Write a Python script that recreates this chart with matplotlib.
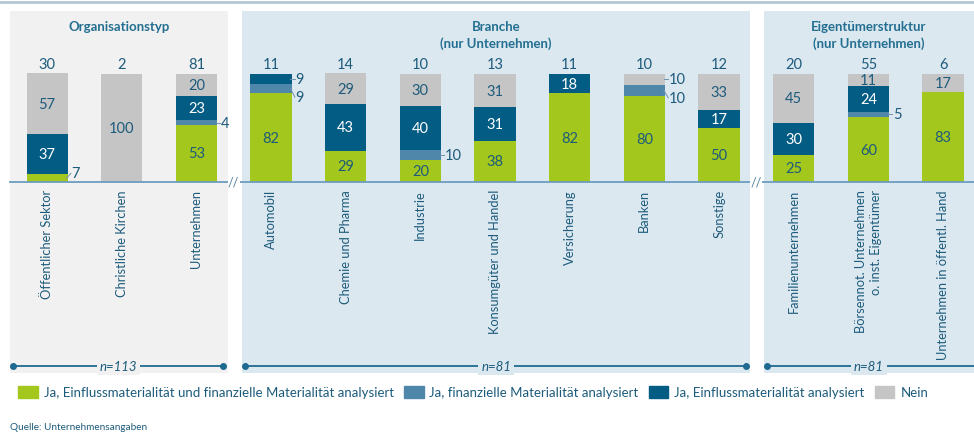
import matplotlib.pyplot as plt
from matplotlib.patches import Rectangle, Patch

plt.rcParams["font.family"] = ["Lato", "DejaVu Sans"]

# data
categories = [
    "Öffentlicher Sektor", "Christliche Kirchen", "Unternehmen",
    "Automobil", "Chemie und Pharma", "Industrie", "Konsumgüter und Handel",
    "Versicherung", "Banken", "Sonstige",
    "Familienunternehmen", "Börsennot. Unternehmen\no. inst. Eigentümer",
    "Unternehmen in öffentl. Hand",
]
n_counts = [30, 2, 81, 11, 14, 10, 13, 11, 10, 12, 20, 55, 6]
both = [7, 0, 53, 82, 29, 20, 38, 82, 80, 50, 25, 60, 83]
financial = [0, 0, 4, 9, 0, 10, 0, 0, 10, 0, 0, 5, 0]
impact = [37, 0, 23, 9, 43, 40, 31, 18, 0, 17, 30, 24, 0]
no = [57, 100, 20, 0, 29, 30, 31, 0, 10, 33, 45, 11, 17]

series = [both, financial, impact, no]
series_names = [
    "Ja, Einflussmaterialität und finanzielle Materialität analysiert",
    "Ja, finanzielle Materialität analysiert",
    "Ja, Einflussmaterialität analysiert",
    "Nein",
]
group_titles = ["Organisationstyp", "Branche\n(nur Unternehmen)",
                "Eigentümerstruktur\n(nur Unternehmen)"]
group_first = [0, 3, 10]
group_last = [2, 9, 12]
group_n = [113, 81, 81]

# style
colors = ["#a3c71c", "#4f87aa", "#035c84", "#c5c5c5"]
label_colors = ["#1d5b7c", "#1d5b7c", "white", "#1d5b7c"]
text_col = "#1d5b7c"
head_col = "#236f91"
panel_cols = ["#f1f1f1", "#dce8f0", "#dce8f0"]
pad_left = [0.5, 0.39, 0.4]
pad_right = [0.42, 0.42, 0.8]
bar_w = 0.55

fig = plt.figure(figsize=(9.74, 4.35), dpi=100)
ax = fig.add_axes([0, 0, 1, 1])
ax.set_xlim(-0.63, 12.415)
ax.set_ylim(-233.3, 169.4)
ax.axis("off")

# panels
for g in range(3):
    x0 = group_first[g] - pad_left[g]
    x1 = group_last[g] + pad_right[g]
    ax.add_patch(Rectangle((x0, -177), x1 - x0, 335, color=panel_cols[g], zorder=0, lw=0))
    xc = (x0 + min(x1, 12.415)) / 2
    ax.text(xc, 149.5, group_titles[g], ha="center", va="top", fontsize=9.5,
            fontweight="bold", color=head_col, linespacing=1.35)
    # n line
    ax.plot([x0 + 0.045, x1 - 0.06], [-170.4, -170.4], color="#1f6a90", lw=1.3,
            marker="o", markersize=4, zorder=2)
    ax.text(xc, -170.4, f"n={group_n[g]}", ha="center", va="center", fontsize=9.5,
            style="italic", color=text_col, zorder=3,
            bbox=dict(facecolor=panel_cols[g], edgecolor="none", pad=2))

# top rule and baseline
ax.plot([-0.7, 12.5], [166.6, 166.6], color="#b3c6d2", lw=2, zorder=1)
ax.plot([-0.496, 12.5], [0, 0], color="#6d9cc0", lw=1.3, zorder=4)
for xb in [2.5, 9.5]:
    ax.text(xb, 0, "//", ha="center", va="center", fontsize=9, color="#4f7f9f",
            zorder=5, bbox=dict(facecolor="white", edgecolor="none", pad=0.3))

# bars
x = list(range(len(categories)))
bottom = [0] * len(categories)
for s, vals in enumerate(series):
    ax.bar(x, vals, bar_w, bottom=bottom, color=colors[s], zorder=3,
           label=series_names[s])
    bottom = [b + v for b, v in zip(bottom, vals)]

# value labels
for i in x:
    base = 0
    last_callout = None
    segs = []
    for s, vals in enumerate(series):
        v = vals[i]
        segs.append((s, base, v))
        base += v
    for s, b0, v in reversed(segs):
        if v == 0:
            continue
        mid = b0 + v / 2
        if v >= 11:
            ax.text(i, mid, str(v), ha="center", va="center", fontsize=10.5,
                    color=label_colors[s], zorder=5)
        else:
            ly = mid if last_callout is None else min(mid, last_callout - 17)
            ly = max(ly, 8)
            last_callout = ly
            ax.plot([i + 0.26, i + 0.32], [mid, ly], color="#6f93ab", lw=0.7, zorder=5)
            ax.text(i + 0.33, ly, str(v), ha="left", va="center", fontsize=10.5,
                    color=text_col, zorder=5)
    ax.text(i, 109.5, str(n_counts[i]), ha="center", va="center", fontsize=10.5,
            color=text_col)
    ax.text(i, -6.5, categories[i], ha="center", va="top", rotation=90,
            fontsize=9.3, color=text_col, multialignment="right", linespacing=1.25)

handles = [Patch(color=c) for c in colors]
fig.legend(handles, series_names, ncol=4, loc="center left",
           bbox_to_anchor=(0.0185, 0.0966), frameon=False, fontsize=9.5,
           handlelength=1.5, handleheight=1.1, handletextpad=0.45,
           columnspacing=0.75, borderpad=0, borderaxespad=0, labelcolor=text_col)

fig.text(10 / 974, 1 - 428 / 435, "Quelle: Unternehmensangaben", fontsize=7.2,
         color=text_col, va="center", ha="left")

fig.savefig("out.png", dpi=100)
